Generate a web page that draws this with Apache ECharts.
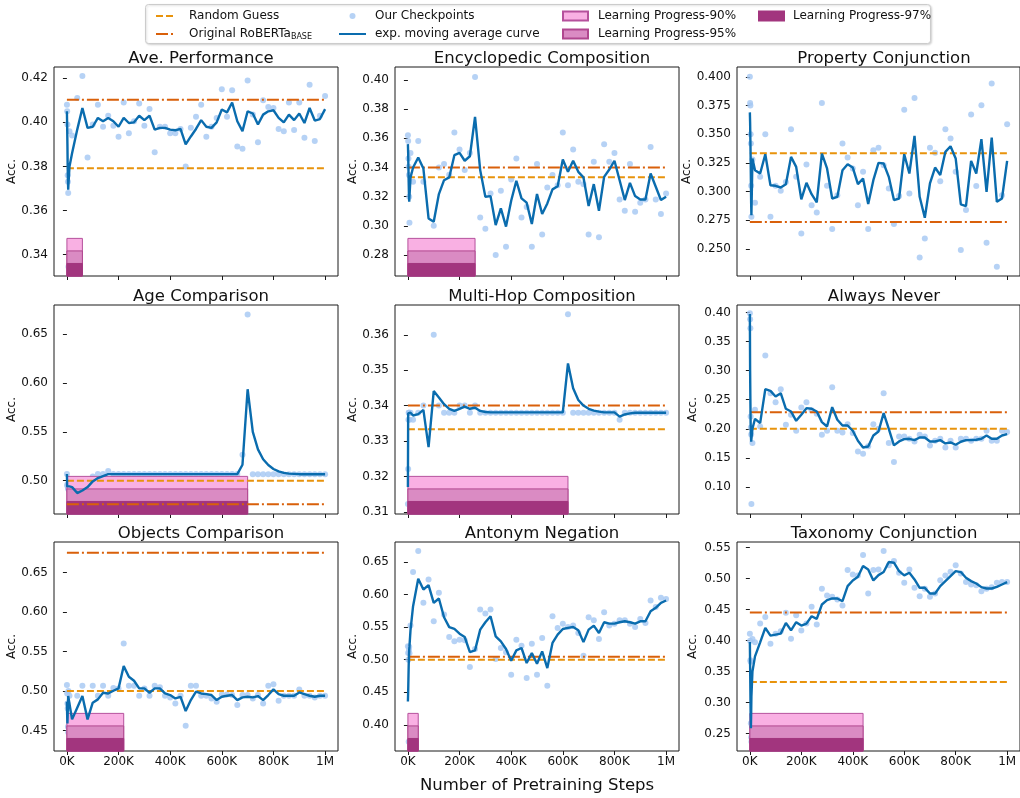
<!DOCTYPE html>
<html>
<head>
<meta charset="utf-8">
<script src="https://cdn.jsdelivr.net/npm/echarts@6/dist/echarts.min.js"></script>
<style>
html, body { margin: 0; padding: 0; background: #fff; }
#chart { width: 1020px; height: 798px; }
</style>
</head>
<body>
<div id="chart"></div>
<script>
// checkpoint steps, in thousands
const steps = [0, 1, 2, 3, 4, 5, 6, 10,
  20, 40, 60, 80, 100, 120, 140, 160, 180, 200,
  220, 240, 260, 280, 300, 320, 340, 360, 380, 400,
  420, 440, 460, 480, 500, 520, 540, 560, 580, 600,
  620, 640, 660, 680, 700, 720, 740, 760, 780, 800,
  820, 840, 860, 880, 900, 920, 940, 960, 980, 1000];

const xTicks = [0, 200, 400, 600, 800, 1000];

const titles = ['Ave. Performance', 'Encyclopedic Composition', 'Property Conjunction',
  'Age Comparison', 'Multi-Hop Composition', 'Always Never',
  'Objects Comparison', 'Antonym Negation', 'Taxonomy Conjunction'];

const randomGuess = [0.3792, 0.3333, 0.3333, 0.50, 0.3333, 0.20, 0.50, 0.50, 0.3333];
const robertaBase = [0.4103, 0.340, 0.2733, 0.476, 0.340, 0.2286, 0.675, 0.5045, 0.4455];
// step (K) where learning progress 90% / 95% / 97% is reached, null = none
const lp90 = [60, 260, null, 700, 620, null, 220, 40, 440];
const lp95 = [60, 260, null, 700, 620, null, 220, 40, 440];
const lp97 = [60, 260, null, 700, 620, null, 220, 40, 440];

const yMinList = [0.3303, 0.2657, 0.2263, 0.466, 0.3094, 0.0534, 0.4242, 0.3599, 0.222];
const yMaxList = [0.4251, 0.4088, 0.4086, 0.6796, 0.3684, 0.413, 0.6886, 0.6807, 0.5591];
const yTickList = [
  [0.34, 0.36, 0.38, 0.40, 0.42],
  [0.28, 0.30, 0.32, 0.34, 0.36, 0.38, 0.40],
  [0.250, 0.275, 0.300, 0.325, 0.350, 0.375, 0.400],
  [0.50, 0.55, 0.60, 0.65],
  [0.31, 0.32, 0.33, 0.34, 0.35, 0.36],
  [0.10, 0.15, 0.20, 0.25, 0.30, 0.35, 0.40],
  [0.45, 0.50, 0.55, 0.60, 0.65],
  [0.40, 0.45, 0.50, 0.55, 0.60, 0.65],
  [0.25, 0.30, 0.35, 0.40, 0.45, 0.50, 0.55]
];
const yDecimals = [2, 2, 3, 2, 2, 2, 2, 2, 2];

const aveCkpt = [0.408, 0.405, 0.399, 0.376, 0.373, 0.368, 0.3345, 0.396,
  0.394, 0.411, 0.421, 0.384, 0.399, 0.408, 0.398, 0.403, 0.3985, 0.3935,
  0.409, 0.395, 0.4005, 0.4085, 0.3985, 0.406, 0.3864, 0.398, 0.398, 0.395,
  0.395, 0.397, 0.380, 0.3975, 0.4025, 0.408, 0.3935, 0.398, 0.402, 0.415,
  0.4025, 0.4145, 0.389, 0.388, 0.419, 0.4035, 0.391, 0.410, 0.407, 0.4065,
  0.397, 0.396, 0.409, 0.3965, 0.409, 0.393, 0.417, 0.3915, 0.403, 0.412];
const aveEma = [0.405, 0.398, 0.39, 0.38, 0.374, 0.3694, 0.372, 0.38,
  0.386, 0.3967, 0.4065, 0.3975, 0.398, 0.402, 0.4005, 0.402, 0.4005, 0.398,
  0.402, 0.3997, 0.400, 0.403, 0.401, 0.403, 0.3967, 0.3975, 0.3975, 0.3967,
  0.3964, 0.397, 0.390, 0.3936, 0.397, 0.401, 0.398, 0.3975, 0.400, 0.4058,
  0.4045, 0.409, 0.4005, 0.396, 0.405, 0.404, 0.399, 0.4035, 0.405, 0.4055,
  0.402, 0.400, 0.4035, 0.401, 0.404, 0.3997, 0.4065, 0.4008, 0.4015, 0.406];

const encyCkpt = [0.3621, 0.3582, 0.3462, 0.3405, 0.3348, 0.32, 0.3022, 0.350,
  0.3302, 0.3582, 0.3302, 0.272, 0.3001, 0.340, 0.3423, 0.335, 0.3639, 0.3523,
  0.3382, 0.350, 0.402, 0.3058, 0.2981, 0.3222, 0.2801, 0.324, 0.2858, 0.3318,
  0.3462, 0.3058, 0.313, 0.2858, 0.3423, 0.2942, 0.3263, 0.3348, 0.3279, 0.3639,
  0.3279, 0.3523, 0.3302, 0.3286, 0.2942, 0.3439, 0.2922, 0.3559, 0.3439, 0.350,
  0.3181, 0.3104, 0.3423, 0.3097, 0.3159, 0.3181, 0.3541, 0.3181, 0.3081, 0.3222];
const encyEma = [0.356, 0.35, 0.34, 0.33, 0.322, 0.3165, 0.32, 0.333,
  0.340, 0.3468, 0.3393, 0.3051, 0.3029, 0.3218, 0.3313, 0.3332, 0.3484, 0.350,
  0.3446, 0.3477, 0.3746, 0.3382, 0.320, 0.3204, 0.3006, 0.312, 0.2995, 0.3172,
  0.3309, 0.3188, 0.3159, 0.3013, 0.3218, 0.3081, 0.3154, 0.325, 0.3272, 0.3455,
  0.337, 0.3446, 0.337, 0.3332, 0.3136, 0.3286, 0.3104, 0.3336, 0.3386, 0.3446,
  0.3313, 0.3177, 0.3295, 0.3204, 0.3181, 0.3181, 0.3359, 0.3268, 0.3177, 0.320];

const propCkpt = [0.400, 0.3773, 0.375, 0.350, 0.3418, 0.305, 0.278, 0.328,
  0.2902, 0.3128, 0.350, 0.278, 0.305, 0.3006, 0.3084, 0.3543, 0.3128, 0.2634,
  0.3236, 0.2881, 0.2817, 0.3773, 0.305, 0.2672, 0.2968, 0.3418, 0.3296, 0.320,
  0.2881, 0.3172, 0.2672, 0.336, 0.3381, 0.323, 0.3026, 0.2716, 0.296, 0.3714,
  0.2983, 0.3816, 0.2425, 0.2591, 0.3381, 0.3337, 0.309, 0.3543, 0.3462, 0.3172,
  0.2489, 0.2838, 0.3671, 0.3047, 0.3752, 0.2553, 0.3941, 0.2344, 0.2968, 0.3587];
const propEma = [0.369, 0.36, 0.345, 0.33, 0.31, 0.29, 0.2794, 0.3288,
  0.3186, 0.3157, 0.3325, 0.3055, 0.305, 0.3035, 0.3064, 0.3302, 0.3215, 0.2931,
  0.3076, 0.2977, 0.2905, 0.3331, 0.3201, 0.2939, 0.2954, 0.3186, 0.3238, 0.3209,
  0.3064, 0.3114, 0.289, 0.3099, 0.325, 0.3244, 0.3128, 0.2925, 0.2939, 0.3325,
  0.3157, 0.3485, 0.2954, 0.2771, 0.307, 0.3209, 0.3143, 0.3346, 0.3395, 0.3288,
  0.2887, 0.2873, 0.3267, 0.3157, 0.3456, 0.2997, 0.3471, 0.291, 0.2939, 0.3267];

const ageCkpt = [0.5068, 0.496, 0.495, 0.494, 0.493, 0.492, 0.491, 0.49,
  0.493, 0.481, 0.4926, 0.497, 0.5044, 0.5068, 0.5068, 0.510, 0.5068, 0.5068,
  0.5068, 0.5068, 0.5068, 0.5068, 0.5068, 0.5068, 0.5068, 0.5068, 0.5068, 0.5068,
  0.5068, 0.5068, 0.5068, 0.5068, 0.5068, 0.5068, 0.5068, 0.5068, 0.5068, 0.5068,
  0.5068, 0.5068, 0.5068, 0.5265, 0.670, 0.5065, 0.5065, 0.5065, 0.5065, 0.5065,
  0.5065, 0.5065, 0.5065, 0.5065, 0.5065, 0.5065, 0.5065, 0.5065, 0.5065, 0.5065];
const ageEma = [0.5068, 0.4942, 0.4942, 0.4942, 0.4942, 0.4942, 0.4942, 0.4942,
  0.4935, 0.4874, 0.490, 0.4935, 0.4993, 0.5027, 0.5048, 0.5068, 0.5068, 0.5068,
  0.5068, 0.5068, 0.5068, 0.5068, 0.5068, 0.5068, 0.5068, 0.5068, 0.5068, 0.5068,
  0.5068, 0.5068, 0.5068, 0.5068, 0.5068, 0.5068, 0.5068, 0.5068, 0.5068, 0.5068,
  0.5068, 0.5068, 0.5068, 0.5163, 0.5935, 0.550, 0.532, 0.522, 0.516, 0.512,
  0.5095, 0.508, 0.5073, 0.507, 0.5067, 0.5066, 0.5066, 0.5066, 0.5066, 0.5066];

const multiCkpt = [0.3122, 0.3221, 0.336, 0.338, 0.338, 0.338, 0.336, 0.338,
  0.336, 0.338, 0.340, 0.3178, 0.360, 0.340, 0.338, 0.338, 0.338, 0.340,
  0.340, 0.338, 0.340, 0.338, 0.338, 0.338, 0.338, 0.338, 0.338, 0.338,
  0.338, 0.338, 0.338, 0.338, 0.338, 0.338, 0.338, 0.338, 0.338, 0.338,
  0.3658, 0.338, 0.338, 0.338, 0.338, 0.338, 0.338, 0.338, 0.338, 0.338,
  0.336, 0.338, 0.338, 0.338, 0.338, 0.338, 0.338, 0.338, 0.338, 0.338];
const multiEma = [0.317, 0.3378, 0.3383, 0.3383, 0.3383, 0.3383, 0.3382, 0.338,
  0.3372, 0.3376, 0.3388, 0.3283, 0.3441, 0.3423, 0.3404, 0.3391, 0.3385, 0.3391,
  0.3397, 0.3391, 0.3394, 0.3385, 0.3382, 0.3381, 0.3381, 0.3381, 0.3381, 0.3381,
  0.3381, 0.3381, 0.3381, 0.3381, 0.3381, 0.3381, 0.3381, 0.3381, 0.3381, 0.3381,
  0.3519, 0.3449, 0.3416, 0.340, 0.3391, 0.3386, 0.3383, 0.3381, 0.3381, 0.3381,
  0.3369, 0.3375, 0.3378, 0.338, 0.338, 0.338, 0.338, 0.338, 0.338, 0.338];

const alwaysCkpt = [0.3987, 0.3884, 0.373, 0.2212, 0.2023, 0.19, 0.0706, 0.1754,
  0.2326, 0.204, 0.326, 0.2613, 0.2458, 0.2682, 0.2069, 0.2241, 0.1966, 0.2367,
  0.2458, 0.232, 0.226, 0.1897, 0.1966, 0.2716, 0.1966, 0.1937, 0.208, 0.1926,
  0.161, 0.157, 0.17, 0.208, 0.20, 0.2613, 0.1754, 0.1427, 0.1868, 0.1868,
  0.1828, 0.1782, 0.1897, 0.1868, 0.1714, 0.1794, 0.1828, 0.1679, 0.1794, 0.1679,
  0.1828, 0.1828, 0.1794, 0.1828, 0.1828, 0.1966, 0.1794, 0.1794, 0.1966, 0.1943];
const alwaysEma = [0.3976, 0.30, 0.25, 0.21, 0.19, 0.178, 0.18, 0.20,
  0.2172, 0.2097, 0.2682, 0.2653, 0.2556, 0.2613, 0.2344, 0.2298, 0.2137, 0.2241,
  0.2355, 0.2344, 0.2298, 0.2115, 0.204, 0.2372, 0.2155, 0.2057, 0.2057, 0.1966,
  0.1794, 0.1679, 0.1696, 0.1885, 0.1954, 0.2269, 0.20, 0.1714, 0.1782, 0.1822,
  0.1828, 0.1805, 0.1851, 0.1851, 0.1782, 0.1782, 0.1805, 0.1748, 0.1765, 0.1725,
  0.1777, 0.1805, 0.1805, 0.1811, 0.1828, 0.1885, 0.1828, 0.1828, 0.1885, 0.1908];

const objCkpt = [0.5076, 0.497, 0.4844, 0.4781, 0.455, 0.4478, 0.50, 0.494,
  0.436, 0.4941, 0.5067, 0.436, 0.5067, 0.4941, 0.5067, 0.4941, 0.504, 0.5034,
  0.5602, 0.5067, 0.5067, 0.4941, 0.5034, 0.4941, 0.5067, 0.505, 0.4941, 0.492,
  0.4844, 0.4941, 0.4562, 0.5067, 0.5067, 0.4941, 0.4941, 0.4907, 0.4865, 0.4958,
  0.4958, 0.495, 0.4823, 0.495, 0.495, 0.4907, 0.495, 0.4844, 0.5067, 0.5088,
  0.4878, 0.4941, 0.4941, 0.4941, 0.502, 0.4941, 0.4941, 0.492, 0.4941, 0.4941];
const objEma = [0.4865, 0.47, 0.459, 0.47, 0.485, 0.4937, 0.4937, 0.4937,
  0.4642, 0.479, 0.4937, 0.4642, 0.4853, 0.4895, 0.4979, 0.497, 0.5004, 0.5034,
  0.5316, 0.5181, 0.5131, 0.5034, 0.5034, 0.4979, 0.5034, 0.5034, 0.497, 0.495,
  0.4907, 0.4928, 0.4747, 0.4886, 0.4992, 0.497, 0.4962, 0.495, 0.4886, 0.4928,
  0.4941, 0.495, 0.4886, 0.492, 0.4928, 0.492, 0.4937, 0.4886, 0.495, 0.5021,
  0.4962, 0.4941, 0.4941, 0.4941, 0.4983, 0.4962, 0.4941, 0.4928, 0.4941, 0.4941];

const antCkpt = [0.5205, 0.5103, 0.50, 0.3742, 0.515, 0.52, 0.51, 0.5524,
  0.6345, 0.6668, 0.5873, 0.6232, 0.559, 0.6027, 0.5693, 0.5349, 0.5282, 0.5308,
  0.5298, 0.4887, 0.5164, 0.577, 0.5708, 0.577, 0.501, 0.518, 0.5113, 0.4769,
  0.5308, 0.5216, 0.4718, 0.5246, 0.4769, 0.5334, 0.460, 0.5667, 0.5488, 0.5554,
  0.5503, 0.5524, 0.5411, 0.5062, 0.5652, 0.5606, 0.5318, 0.5729, 0.5524, 0.5554,
  0.5606, 0.5606, 0.5554, 0.5503, 0.5626, 0.5565, 0.5909, 0.5811, 0.595, 0.5934];
const antEma = [0.436, 0.45, 0.47, 0.49, 0.505, 0.515, 0.52, 0.545,
  0.5821, 0.6242, 0.6078, 0.6145, 0.5873, 0.594, 0.5652, 0.550, 0.5472, 0.540,
  0.5349, 0.5118, 0.5144, 0.5462, 0.5575, 0.5667, 0.5359, 0.5282, 0.5164, 0.4985,
  0.5144, 0.518, 0.4949, 0.5103, 0.4938, 0.5128, 0.4872, 0.5257, 0.5385, 0.5472,
  0.5488, 0.5503, 0.5452, 0.527, 0.5462, 0.5524, 0.5411, 0.5575, 0.5554, 0.5554,
  0.5575, 0.559, 0.5575, 0.5554, 0.559, 0.559, 0.5744, 0.5796, 0.5873, 0.5909];

const taxCkpt = [0.4113, 0.40, 0.3682, 0.366, 0.2668, 0.2441, 0.2371, 0.4027,
  0.3973, 0.4275, 0.4383, 0.3951, 0.4113, 0.4151, 0.4448, 0.4032, 0.441, 0.4162,
  0.4275, 0.4545, 0.4259, 0.4836, 0.4728, 0.4707, 0.4663, 0.4566, 0.5138, 0.5068,
  0.5052, 0.5381, 0.4761, 0.5138, 0.5149, 0.5446, 0.5214, 0.5284, 0.5095, 0.4933,
  0.5149, 0.4852, 0.4717, 0.4836, 0.4707, 0.4761, 0.4976, 0.5052, 0.5111, 0.5214,
  0.5084, 0.4944, 0.4906, 0.4895, 0.4798, 0.4836, 0.4863, 0.4933, 0.4944, 0.4944];
const taxEma = [0.3978, 0.36, 0.32, 0.28, 0.2587, 0.28, 0.31, 0.35,
  0.3746, 0.3973, 0.4205, 0.4081, 0.4097, 0.4113, 0.4286, 0.4167, 0.4297, 0.4243,
  0.4275, 0.4394, 0.4351, 0.4583, 0.4653, 0.468, 0.468, 0.4636, 0.4879, 0.4971,
  0.503, 0.5203, 0.5149, 0.4971, 0.5057, 0.5106, 0.5268, 0.5257, 0.5122, 0.5052,
  0.5095, 0.4987, 0.4852, 0.4852, 0.4761, 0.4761, 0.4879, 0.496, 0.5041, 0.5122,
  0.5106, 0.5014, 0.496, 0.4922, 0.4863, 0.4841, 0.4841, 0.4868, 0.4906, 0.4944];

const ckptList = [aveCkpt, encyCkpt, propCkpt, ageCkpt, multiCkpt, alwaysCkpt, objCkpt, antCkpt, taxCkpt];
const emaList = [aveEma, encyEma, propEma, ageEma, multiEma, alwaysEma, objEma, antEma, taxEma];

// styling
const FONT = 'DejaVu Sans';
const C_RANDOM = '#e8930c';
const C_ROBERTA = '#d9600a';
const C_POINT = '#a4c7f2';
const C_EMA = '#0a6cae';
const LP_STYLE = [
  { name: 'Learning Progress-90%', frac: 0.18, fill: '#f9b0e3', stroke: '#b5519c' },
  { name: 'Learning Progress-95%', frac: 0.12, fill: '#da8bc3', stroke: '#b0478f' },
  { name: 'Learning Progress-97%', frac: 0.06, fill: '#a2357e', stroke: '#a2357e' }
];
const lpEnds = [lp90, lp95, lp97];

const colLeft = [54, 395, 737];
const rowTop = [67, 305, 542];
const gridW = 284;
const gridH = 209;
const accGap = [31, 32, 38];

const chart = echarts.init(document.getElementById('chart'));

function lpRender(frac) {
  return function (params, api) {
    const cs = params.coordSys;
    const x0 = api.coord([api.value(0), 0])[0];
    const x1 = api.coord([api.value(1), 0])[0];
    const h = cs.height * frac;
    return {
      type: 'rect',
      shape: { x: x0, y: cs.y + cs.height - h, width: x1 - x0, height: h },
      style: api.style()
    };
  };
}

const grids = [], xAxes = [], yAxes = [], series = [], titleList = [];

titles.forEach((t, i) => {
  const row = Math.floor(i / 3), col = i % 3;
  const bottomRow = row === 2;
  grids.push({
    left: colLeft[col], top: rowTop[row], width: gridW, height: gridH,
    show: true, borderColor: '#1a1a1a', borderWidth: 1
  });
  titleList.push({
    text: t, left: colLeft[col] + gridW / 2, top: rowTop[row] - 22, textAlign: 'center',
    textStyle: { fontFamily: FONT, fontSize: 16.5, fontWeight: 'normal', color: '#111' }
  });
  xAxes.push({
    type: 'value', gridIndex: i, min: -50000, max: 1050000,
    axisLine: { show: false },
    splitLine: { show: false },
    axisTick: { show: true, length: 4, customValues: xTicks.map(v => v * 1000), lineStyle: { color: '#1a1a1a' } },
    axisLabel: {
      show: bottomRow, customValues: xTicks.map(v => v * 1000), margin: 5,
      fontFamily: FONT, fontSize: 12, color: '#111',
      formatter: v => v >= 1000000 ? '1M' : (v / 1000) + 'K'
    },
    name: i === 7 ? 'Number of Pretraining Steps' : '',
    nameLocation: 'middle', nameGap: 26,
    nameTextStyle: { fontFamily: FONT, fontSize: 16.5, color: '#111' }
  });
  yAxes.push({
    type: 'value', gridIndex: i, min: yMinList[i], max: yMaxList[i],
    axisLine: { show: false },
    splitLine: { show: false },
    axisTick: { show: true, length: 4, customValues: yTickList[i], lineStyle: { color: '#1a1a1a' } },
    axisLabel: {
      customValues: yTickList[i], margin: 6,
      fontFamily: FONT, fontSize: 12, color: '#111',
      formatter: v => v.toFixed(yDecimals[i])
    },
    name: 'Acc.', nameLocation: 'middle', nameRotate: 90, nameGap: accGap[col],
    nameTextStyle: { fontFamily: FONT, fontSize: 12, color: '#111' }
  });

  series.push({
    name: 'Our Checkpoints', type: 'scatter', xAxisIndex: i, yAxisIndex: i,
    symbolSize: 6, z: 1, itemStyle: { color: C_POINT },
    data: steps.map((s, k) => [s * 1000, ckptList[i][k]])
  });
  LP_STYLE.forEach((lp, j) => {
    const end = lpEnds[j][i];
    if (end == null) return;
    series.push({
      name: lp.name, type: 'custom', xAxisIndex: i, yAxisIndex: i, z: 2,
      renderItem: lpRender(lp.frac),
      itemStyle: { color: lp.fill, borderColor: lp.stroke, borderWidth: 1 },
      encode: { x: [0, 1], y: 2 },
      data: [[0, end * 1000, yMinList[i]]]
    });
  });
  series.push({
    name: 'Random Guess', type: 'line', xAxisIndex: i, yAxisIndex: i, z: 3,
    symbol: 'none', silent: true,
    lineStyle: { color: C_RANDOM, width: 2, type: [7, 3] },
    itemStyle: { color: C_RANDOM },
    data: [[0, randomGuess[i]], [1000000, randomGuess[i]]]
  });
  series.push({
    name: 'Original RoBERTa', type: 'line', xAxisIndex: i, yAxisIndex: i, z: 3,
    symbol: 'none', silent: true,
    lineStyle: { color: C_ROBERTA, width: 2, type: [12, 3, 2, 3] },
    itemStyle: { color: C_ROBERTA },
    data: [[0, robertaBase[i]], [1000000, robertaBase[i]]]
  });
  series.push({
    name: 'exp. moving average curve', type: 'line', xAxisIndex: i, yAxisIndex: i, z: 4,
    symbol: 'none',
    lineStyle: { color: C_EMA, width: 2.4 },
    itemStyle: { color: C_EMA },
    data: steps.map((s, k) => [s * 1000, emaList[i][k]])
  });
});

const legendText = { fontFamily: FONT, fontSize: 12, color: '#111', lineHeight: 14 };
const hideSymbol = { opacity: 0 };

chart.setOption({
  animation: false,
  backgroundColor: '#fff',
  title: titleList,
  graphic: [{
    type: 'rect', left: 145, top: 4, z: 1,
    shape: { width: 785, height: 39, r: 3 },
    style: { fill: '#fff', stroke: '#cccccc', lineWidth: 1, shadowBlur: 2, shadowColor: 'rgba(0,0,0,0.15)', shadowOffsetX: 1, shadowOffsetY: 1 }
  }],
  legend: [
    {
      left: 150, top: 4, orient: 'vertical', itemGap: 4, itemWidth: 20, itemHeight: 10,
      data: [
        { name: 'Random Guess', itemStyle: hideSymbol },
        { name: 'Original RoBERTa', itemStyle: hideSymbol }
      ],
      formatter: n => n === 'Original RoBERTa' ? '{n|Original RoBERTa}{s|BASE}' : n,
      textStyle: Object.assign({}, legendText, {
        padding: [0, 0, 0, 8],
        rich: {
          n: { fontFamily: FONT, fontSize: 12, color: '#111', lineHeight: 14 },
          s: { fontFamily: FONT, fontSize: 8, color: '#111', lineHeight: 14, padding: [6, 0, 0, 0] }
        }
      })
    },
    {
      left: 333, top: 4, orient: 'vertical', itemGap: 4, itemWidth: 27, itemHeight: 6,
      data: [
        { name: 'Our Checkpoints', icon: 'circle', itemStyle: { color: C_POINT } },
        { name: 'exp. moving average curve', itemStyle: hideSymbol }
      ],
      textStyle: Object.assign({}, legendText, { padding: [0, 0, 0, 4] })
    },
    {
      left: 557, top: 4, orient: 'vertical', itemGap: 4, itemWidth: 25, itemHeight: 9,
      data: [{ name: 'Learning Progress-90%', icon: 'rect' }, { name: 'Learning Progress-95%', icon: 'rect' }],
      textStyle: Object.assign({}, legendText, { padding: [0, 0, 0, 5] })
    },
    {
      left: 753, top: 4, orient: 'vertical', itemGap: 4, itemWidth: 25, itemHeight: 9,
      data: [{ name: 'Learning Progress-97%', icon: 'rect' }],
      textStyle: Object.assign({}, legendText, { padding: [0, 0, 0, 4] })
    }
  ],
  grid: grids,
  xAxis: xAxes,
  yAxis: yAxes,
  series: series
});

window.addEventListener('resize', () => chart.resize());
</script>
</body>
</html>
